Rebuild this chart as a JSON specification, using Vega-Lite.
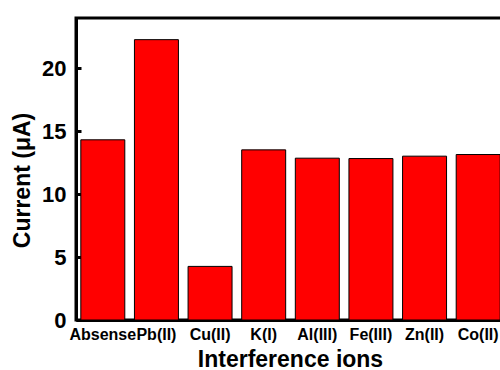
{
  "$schema": "https://vega.github.io/schema/vega-lite/v6.json",
  "autosize": {"type": "none"},
  "padding": {"left": 76, "top": 18, "right": 0, "bottom": 50},
  "width": 429,
  "height": 302,
  "background": "white",
  "data": {
    "values": [
      {"ion": "Absense", "current": 14.32},
      {"ion": "Pb(II)", "current": 22.28},
      {"ion": "Cu(II)", "current": 4.26},
      {"ion": "K(I)", "current": 13.52},
      {"ion": "Al(III)", "current": 12.86},
      {"ion": "Fe(III)", "current": 12.83},
      {"ion": "Zn(II)", "current": 13.02},
      {"ion": "Co(II)", "current": 13.15}
    ]
  },
  "mark": {"type": "bar", "color": "#ff0000", "stroke": "#000000", "strokeWidth": 1},
  "encoding": {
    "x": {
      "field": "ion",
      "type": "nominal",
      "sort": null,
      "scale": {"paddingInner": 0.18, "paddingOuter": 0.09},
      "axis": {
        "title": "Interference ions",
        "labelAngle": 0,
        "labelFontSize": 16,
        "labelPadding": 11,
        "labelOverlap": false,
        "labelBound": false,
        "tickSize": -5,
        "titleFontSize": 23,
        "titleX": 214,
        "titleY": 46,
        "titleAlign": "center",
        "titleBaseline": "alphabetic"
      }
    },
    "y": {
      "field": "current",
      "type": "quantitative",
      "scale": {"domain": [0, 24], "nice": false, "zero": true},
      "axis": {
        "title": "Current (μA)",
        "values": [0, 5, 10, 15, 20],
        "labelFontSize": 22,
        "labelPadding": 15,
        "tickSize": -5,
        "titleFontSize": 23,
        "titleX": -47,
        "titleY": 162,
        "titleAngle": -90,
        "titleAlign": "center",
        "titleBaseline": "alphabetic"
      }
    }
  },
  "config": {
    "view": {"stroke": "#000000", "strokeWidth": 3},
    "axis": {
      "grid": false,
      "domainColor": "#000000",
      "domainWidth": 3,
      "tickColor": "#000000",
      "tickWidth": 3,
      "labelColor": "#000000",
      "titleColor": "#000000",
      "labelFont": "Liberation Sans",
      "titleFont": "Liberation Sans",
      "labelFontWeight": "bold",
      "titleFontWeight": "bold"
    }
  }
}
